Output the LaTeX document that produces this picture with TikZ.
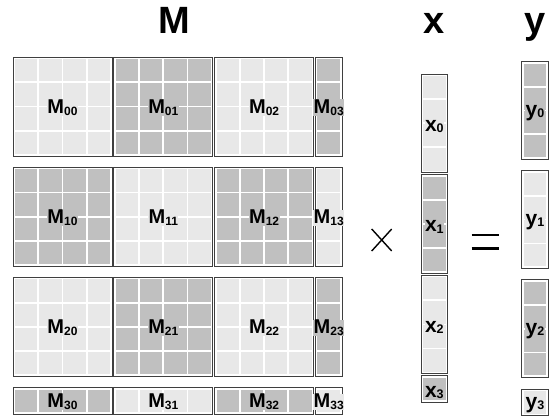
\documentclass[tikz,border=0pt]{standalone}
\usepackage{fontspec}
\setmainfont{Liberation Sans}
\definecolor{lightc}{HTML}{E8E8E8}
\definecolor{darkc}{HTML}{C0C0C0}
\definecolor{edgec}{HTML}{3F3F3F}
\newcommand\myblock[7]{%
  \draw[edgec, line width=0.9pt, fill=white] (#1,#2) rectangle ++(#3,#4);
  \pgfmathsetmacro\mycw{(#3-4-(#5-1)*1.8)/#5}%
  \pgfmathsetmacro\mych{(#4-4-(#6-1)*1.8)/#6}%
  \foreach \a in {1,...,#5}{\foreach \b in {1,...,#6}{%
    \fill[#7] ({#1+2+(\a-1)*(\mycw+1.8)},{#2+2+(\b-1)*(\mych+1.8)}) rectangle ++(\mycw,\mych);
  }}%
}
\newcommand\Mlab[1]{{\fontsize{20}{20}\selectfont M}{\fontsize{12}{12}\selectfont\raisebox{-1.7pt}{#1}}}
\newcommand\Vlab[2]{{\fontsize{21}{21}\selectfont #1}{\fontsize{12.5}{12.5}\selectfont\raisebox{-1.2pt}{#2}}}
\begin{document}
\begin{tikzpicture}[x=1pt,y=-1pt]
\useasboundingbox (0,0) rectangle (550,417);
\tikzset{lab/.style={inner sep=0.4pt, font=\bfseries, anchor=base},
  ttl/.style={anchor=base, inner sep=0pt, font=\fontsize{38}{38}\selectfont\bfseries}}
% titles
\node[ttl] (tM) at (174.5,33.3) {M};
\node[ttl] (tx) at (434.3,33.3) {x};
\node[ttl] (ty) at (535,33.3) {y};
% matrix blocks
\foreach \i in {0,...,3}{
  \foreach \j in {0,...,3}{
    \pgfmathsetmacro\bx{13+100.8*\j}
    \pgfmathsetmacro\by{57+110.2*\i}
    \pgfmathsetmacro\bw{\j<3 ? 99 : 26.6}
    \pgfmathsetmacro\bh{\i<3 ? 99 : 26.6}
    \pgfmathtruncatemacro\nc{\j<3 ? 4 : 1}
    \pgfmathtruncatemacro\nr{\i<3 ? 4 : 1}
    \pgfmathtruncatemacro\parity{mod(\i+\j,2)}
    \ifnum\parity=1 \def\cc{darkc}\else\def\cc{lightc}\fi
    \myblock{\bx}{\by}{\bw}{\bh}{\nc}{\nr}{\cc}
    \node[lab, fill=\cc] (m\i\j) at ({\bx+\bw/2},{\by+\bh/2+7}) {\Mlab{\i\j}};
  }
}
% x vector
\foreach \i in {0,...,3}{
  \pgfmathsetmacro\by{74+100.6*\i}
  \pgfmathsetmacro\bh{\i<3 ? 98.6 : 26.6}
  \pgfmathtruncatemacro\nr{\i<3 ? 4 : 1}
  \pgfmathtruncatemacro\parity{mod(\i,2)}
  \ifnum\parity=1 \def\cc{darkc}\else\def\cc{lightc}\fi
  \myblock{421}{\by}{26.7}{\bh}{1}{\nr}{\cc}
  \node[lab, fill=\cc] (x\i) at ({434.35},{\by+\bh/2+8}) {\Vlab{x}{\i}};
}
% y vector
\foreach \i in {0,...,3}{
  \pgfmathsetmacro\by{61.7+109.1*\i}
  \pgfmathsetmacro\bh{\i<3 ? 97.6 : 26.6}
  \pgfmathtruncatemacro\nr{\i<3 ? 4 : 1}
  \pgfmathtruncatemacro\parity{mod(\i,2)}
  \ifnum\parity=0 \def\cc{darkc}\else\def\cc{lightc}\fi
  \myblock{521.7}{\by}{26.6}{\bh}{1}{\nr}{\cc}
  \node[lab, fill=\cc] (y\i) at ({535},{\by+\bh/2+6}) {\Vlab{y}{\i}};
}
% times and equals
\draw[line width=1.4pt] (371.7,229) -- (391.7,251);
\draw[line width=1.4pt] (371.7,251) -- (391.7,229);
\draw[line width=2.6pt] (471.5,235) -- (498.8,235);
\draw[line width=2.6pt] (471.5,248.3) -- (498.8,248.3);
\end{tikzpicture}
\end{document}
